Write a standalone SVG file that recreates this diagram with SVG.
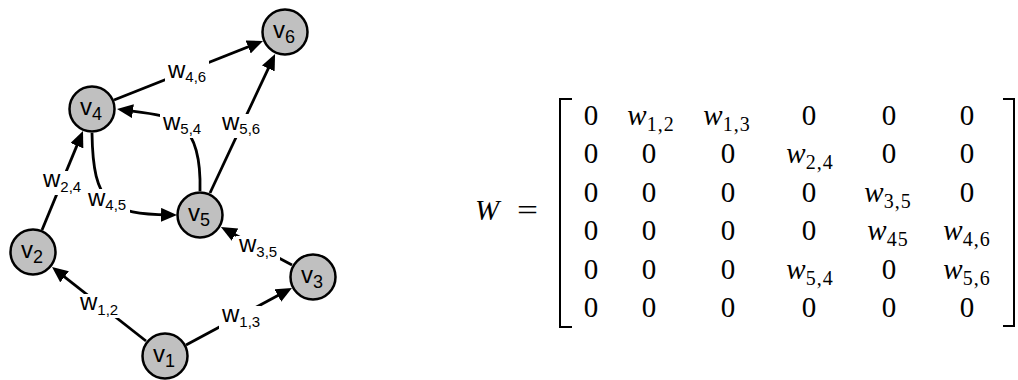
<svg xmlns="http://www.w3.org/2000/svg" width="1018" height="380" viewBox="0 0 1018 380">
<style>
.node{fill:#c0c0c0;stroke:#000;stroke-width:2.5}
.nl{font-family:"Liberation Sans",Arial,sans-serif;font-size:24px;fill:#000}
.el{font-family:"Liberation Sans",Arial,sans-serif;font-size:24px;fill:#000}
.edge{fill:none;stroke:#000;stroke-width:2.8}
.bg{fill:#fff}
.m{font-family:"Liberation Serif","Times New Roman",serif;font-size:29px;fill:#000}
.mi{font-style:italic}
.sub{font-size:20px;letter-spacing:1px}
.br{fill:none;stroke:#000;stroke-width:2}
</style>
<defs>
<marker id="ah" markerUnits="userSpaceOnUse" markerWidth="17" markerHeight="15" refX="9" refY="7" orient="auto">
<path d="M0,0 L16,7 L0,14 z" fill="#000"/>
</marker>
</defs>
<rect width="1018" height="380" fill="#fff"/>
<g id="connectors">
<path class="edge" marker-end="url(#ah)" d="M146,341 L57.5,271.3"/>
<path class="edge" marker-end="url(#ah)" d="M186,345 L285.8,291.3"/>
<path class="edge" marker-end="url(#ah)" d="M292,265 L227.1,230.4"/>
<path class="edge" marker-end="url(#ah)" d="M42,230 L80.3,137.4"/>
<path class="edge" marker-end="url(#ah)" d="M114,100 L256.5,43.6"/>
<path class="edge" marker-end="url(#ah)" d="M210,193 L272.1,60.3"/>
<path class="edge" marker-end="url(#ah)" d="M200,191 C202,115 170,116 124,110"/>
<path class="edge" marker-end="url(#ah)" d="M92,133 C93,205 110,214 170,215"/>
<g id="edge-labels">
<rect class="bg" x="78" y="294" width="43" height="24"/>
<text class="el" x="80" y="310">w<tspan font-size="15" dy="5">1,2</tspan></text>
<rect class="bg" x="219" y="306" width="42" height="24"/>
<text class="el" x="222" y="322">w<tspan font-size="15" dy="5">1,3</tspan></text>
<rect class="bg" x="236" y="236" width="44" height="24"/>
<text class="el" x="239" y="252">w<tspan font-size="15" dy="5">3,5</tspan></text>
<rect class="bg" x="40" y="171" width="45" height="24"/>
<text class="el" x="43" y="187">w<tspan font-size="15" dy="5">2,4</tspan></text>
<rect class="bg" x="165" y="61" width="44" height="24"/>
<text class="el" x="168" y="78">w<tspan font-size="15" dy="4">4,6</tspan></text>
<rect class="bg" x="219" y="114" width="44" height="24"/>
<text class="el" x="222" y="130">w<tspan font-size="15" dy="4">5,6</tspan></text>
<rect class="bg" x="160" y="114" width="45" height="24"/>
<text class="el" x="163" y="130">w<tspan font-size="15" dy="4">5,4</tspan></text>
<rect class="bg" x="85" y="189" width="45" height="24"/>
<text class="el" x="88" y="206">w<tspan font-size="15" dy="4">4,5</tspan></text>
</g>
</g>
<g id="v1"><circle class="node" cx="165" cy="356" r="22.5"/><text class="nl" x="153" y="362">v<tspan font-size="18" dy="5">1</tspan></text></g>
<g id="v2"><circle class="node" cx="33" cy="252" r="22.5"/><text class="nl" x="21" y="258">v<tspan font-size="18" dy="5">2</tspan></text></g>
<g id="v3"><circle class="node" cx="313" cy="277" r="22.5"/><text class="nl" x="301" y="283">v<tspan font-size="18" dy="5">3</tspan></text></g>
<g id="v4"><circle class="node" cx="92" cy="109" r="22.5"/><text class="nl" x="80" y="115">v<tspan font-size="18" dy="5">4</tspan></text></g>
<g id="v5"><circle class="node" cx="200" cy="215" r="22.5"/><text class="nl" x="188" y="221">v<tspan font-size="18" dy="5">5</tspan></text></g>
<g id="v6"><circle class="node" cx="285" cy="32" r="22.5"/><text class="nl" x="273" y="38">v<tspan font-size="18" dy="5">6</tspan></text></g>
<g id="matrix">
<text class="m mi" x="475" y="220" font-size="32">W</text>
<text class="m" x="517" y="220" font-size="32" textLength="21" lengthAdjust="spacingAndGlyphs">=</text>
<path class="br" d="M572,99 H560 V327 H572"/>
<path class="br" d="M1003,99 H1014 V326 H1003"/>
<g text-anchor="middle">
<text class="m" x="591" y="125">0</text>
<text class="m" x="651" y="125"><tspan class="mi">w</tspan><tspan class="sub" dy="6">1,2</tspan></text>
<text class="m" x="727" y="125"><tspan class="mi">w</tspan><tspan class="sub" dy="6">1,3</tspan></text>
<text class="m" x="809" y="125">0</text>
<text class="m" x="889" y="125">0</text>
<text class="m" x="967" y="125">0</text>
<text class="m" x="591" y="163.4">0</text>
<text class="m" x="649" y="163.4">0</text>
<text class="m" x="728" y="163.4">0</text>
<text class="m" x="810" y="163.4"><tspan class="mi">w</tspan><tspan class="sub" dy="6">2,4</tspan></text>
<text class="m" x="889" y="163.4">0</text>
<text class="m" x="967" y="163.4">0</text>
<text class="m" x="591" y="201.8">0</text>
<text class="m" x="649" y="201.8">0</text>
<text class="m" x="728" y="201.8">0</text>
<text class="m" x="809" y="201.8">0</text>
<text class="m" x="888" y="201.8"><tspan class="mi">w</tspan><tspan class="sub" dy="6">3,5</tspan></text>
<text class="m" x="967" y="201.8">0</text>
<text class="m" x="591" y="240.2">0</text>
<text class="m" x="649" y="240.2">0</text>
<text class="m" x="728" y="240.2">0</text>
<text class="m" x="809" y="240.2">0</text>
<text class="m" x="888" y="240.2"><tspan class="mi">w</tspan><tspan class="sub" dy="6">45</tspan></text>
<text class="m" x="967" y="240.2"><tspan class="mi">w</tspan><tspan class="sub" dy="6">4,6</tspan></text>
<text class="m" x="591" y="278.6">0</text>
<text class="m" x="649" y="278.6">0</text>
<text class="m" x="728" y="278.6">0</text>
<text class="m" x="810" y="278.6"><tspan class="mi">w</tspan><tspan class="sub" dy="6">5,4</tspan></text>
<text class="m" x="889" y="278.6">0</text>
<text class="m" x="967" y="278.6"><tspan class="mi">w</tspan><tspan class="sub" dy="6">5,6</tspan></text>
<text class="m" x="591" y="317">0</text>
<text class="m" x="649" y="317">0</text>
<text class="m" x="728" y="317">0</text>
<text class="m" x="809" y="317">0</text>
<text class="m" x="889" y="317">0</text>
<text class="m" x="967" y="317">0</text>
</g>
</g>
</svg>
